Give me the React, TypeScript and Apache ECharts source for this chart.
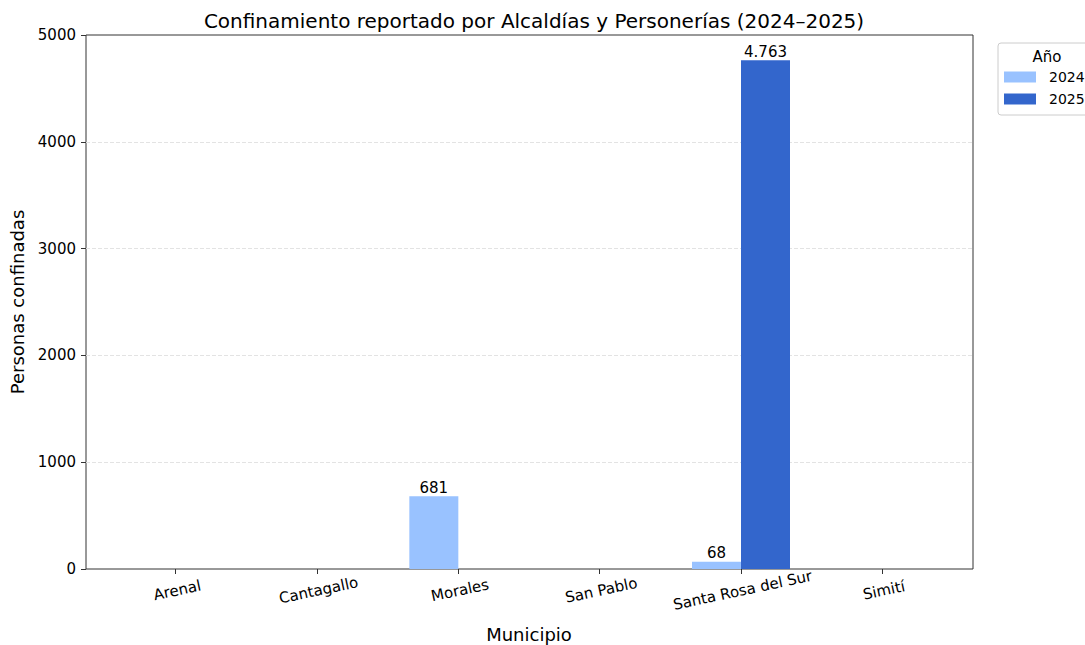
import React, { useEffect, useRef } from "react";
import * as echarts from "echarts";

const municipios = ["Arenal", "Cantagallo", "Morales", "San Pablo", "Santa Rosa del Sur", "Simití"];
const valores2024 = [0, 0, 681, 0, 68, 0];
const valores2025 = [0, 0, 0, 0, 4763, 0];
const yTicks = [0, 1000, 2000, 3000, 4000, 5000];

const FONT = "DejaVu Sans";

function fmt(v: number): string {
  return v.toLocaleString("de-DE");
}

export default function App() {
  const ref = useRef<HTMLDivElement>(null);
  useEffect(() => {
    document.body.style.margin = "0";
    if (!ref.current) return;
    const chart = echarts.init(ref.current, null, { renderer: "svg" });
    const labelOpt = {
      show: true,
      position: "top",
      distance: 1,
      color: "#000",
      fontSize: 15,
      fontFamily: FONT,
      formatter: (p: any) => (p.value ? fmt(p.value) : ""),
    };
    chart.setOption({
      animation: false,
      backgroundColor: "#fff",
      textStyle: { fontFamily: FONT },
      title: {
        text: "Confinamiento reportado por Alcaldías y Personerías (2024–2025)",
        left: 529,
        top: 6,
        textAlign: "center",
        textStyle: { fontSize: 20, fontWeight: "normal", color: "#000", fontFamily: FONT },
      },
      grid: [
        { left: 86, right: 112, top: 35, bottom: 76, show: true, borderColor: "#333", borderWidth: 1, backgroundColor: "transparent", containLabel: false, outerBoundsMode: "none" },
        { left: 105, width: 848, top: 35, bottom: 76, containLabel: false, outerBoundsMode: "none" },
      ],
      xAxis: [
        { gridIndex: 0, type: "category", data: municipios, show: false },
        {
          gridIndex: 1,
          type: "category",
          data: municipios,
          axisLine: { show: false },
          axisTick: { show: true, alignWithLabel: true, length: 5, lineStyle: { color: "#333" } },
          axisLabel: {
            rotate: 12,
            align: "center",
            verticalAlign: "top",
            margin: 14,
            fontSize: 15,
            color: "#000",
            fontFamily: FONT,
            interval: 0,
          },
          name: "Municipio",
          nameLocation: "middle",
          nameGap: 56,
          nameTextStyle: { fontSize: 18, color: "#000", fontFamily: FONT },
        },
      ],
      yAxis: [
        {
          gridIndex: 0,
          type: "value",
          min: yTicks[0],
          max: yTicks[yTicks.length - 1],
          interval: 1000,
          axisLine: { show: false },
          axisTick: { show: true, length: 5, lineStyle: { color: "#333" } },
          axisLabel: { fontSize: 15, color: "#000", fontFamily: FONT, margin: 10, formatter: (v: number) => String(v) },
          splitLine: { show: true, showMinLine: false, showMaxLine: false, lineStyle: { type: "dashed", color: "#e3e3e3", width: 1 } },
          name: "Personas confinadas",
          nameLocation: "middle",
          nameGap: 59,
          nameTextStyle: { fontSize: 18, color: "#000", fontFamily: FONT },
        },
        { gridIndex: 1, type: "value", min: 0, max: 5000, show: false },
      ],
      legend: {
        orient: "vertical",
        left: 1004,
        top: 70,
        icon: "rect",
        itemWidth: 32,
        itemHeight: 11,
        itemGap: 8,
        padding: 0,
        textStyle: { fontSize: 14, color: "#000", fontFamily: FONT, padding: [0, 0, 0, 8] },
        data: ["2024", "2025"],
      },
      graphic: [
        {
          type: "rect",
          shape: { x: 998, y: 43, width: 110, height: 72, r: 3 },
          style: { fill: "rgba(255,255,255,0.8)", stroke: "#cccccc", lineWidth: 1 },
          z: -1,
        },
        {
          type: "text",
          x: 1047,
          y: 57,
          style: { text: "Año", fontSize: 15, fontFamily: FONT, fill: "#000", align: "center", verticalAlign: "middle" },
        },
      ],
      series: [
        {
          name: "2024",
          type: "bar",
          xAxisIndex: 1,
          yAxisIndex: 1,
          data: valores2024,
          barWidth: 49,
          barGap: "0%",
          itemStyle: { color: "#99c2ff" },
          label: labelOpt,
        },
        {
          name: "2025",
          type: "bar",
          xAxisIndex: 1,
          yAxisIndex: 1,
          data: valores2025,
          barWidth: 49,
          barGap: "0%",
          itemStyle: { color: "#3366cc" },
          label: labelOpt,
        },
      ],
    });
    return () => chart.dispose();
  }, []);
  return <div ref={ref} style={{ width: 1085, height: 645 }} />;
}
